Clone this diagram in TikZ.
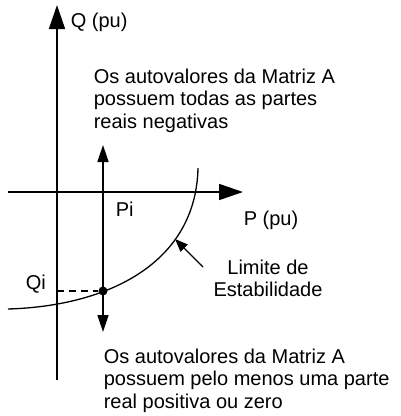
\documentclass[tikz,border=0pt]{standalone}
\usepackage{fontspec}
\setmainfont{Liberation Sans}
\usepackage{tikz}
\usetikzlibrary{arrows.meta, positioning}

\begin{document}
\begin{tikzpicture}[x=1pt, y=-1pt, line width=1.6pt,
    font=\fontsize{20}{22.5}\selectfont,
    eixo/.style={-{Triangle[length=24pt, width=16pt]}},
    rotulo/.style={inner sep=0pt, anchor=base west},
    bloco/.style={inner sep=0pt, anchor=north west, align=left}]
    \useasboundingbox (0,0) rectangle (401,416);

    % 1. Eixos P e Q
    \coordinate (Qbase) at (57,380);
    \coordinate (Qtopo) at (57,5);
    \coordinate (Pesq) at (8,192);
    \coordinate (Pdir) at (243,192);
    \draw[eixo] (Qbase) -- (Qtopo);
    \draw[eixo] (Pesq) -- (Pdir);
    \node[rotulo] (lQ) at (70,27) {Q (pu)};
    \node[rotulo] (lP) at (243,225) {P (pu)};

    % 2. Limite de estabilidade
    \coordinate (curvaini) at (8,309);
    \coordinate (curvafim) at (198,168);
    \draw[line width=1.3pt] (curvaini) .. controls (110,306) and (196,262) .. (curvafim);
    \node[inner sep=0pt, align=center, anchor=north] (lim) at (268,259)
        {Limite de\\Estabilidade};
    \coordinate (setaini) at (203,267);
    \coordinate (setafim) at (175,239);
    \draw[-{Triangle[length=13pt, width=10pt]}, line width=1.3pt] (setaini) -- (setafim);

    % 3. Ponto de operacao (Pi, Qi)
    \node[circle, fill=black, inner sep=0pt, minimum size=9pt] (pto) at (103,291) {};
    \coordinate (Vtopo) at (103,145);
    \coordinate (Vbase) at (103,332);
    \draw[{Triangle[length=17pt, width=11pt]}-{Triangle[length=17pt, width=11pt]}]
        (Vbase) -- (Vtopo);
    \coordinate (qieixo) at (57,291);
    \draw[dash pattern=on 7pt off 5pt, line width=1.3pt] (qieixo) -- (pto);
    \node[rotulo] (lPi) at (115,216) {Pi};
    \node[rotulo] (lQi) at (25,289) {Qi};

    % 4. Textos das regioes
    \node[bloco] (estavel) at (93,68)
        {Os autovalores da Matriz A\\possuem todas as partes\\reais negativas};
    \node[bloco] (instavel) at (103,348)
        {Os autovalores da Matriz A\\possuem pelo menos uma parte\\real positiva ou zero};
\end{tikzpicture}
\end{document}
